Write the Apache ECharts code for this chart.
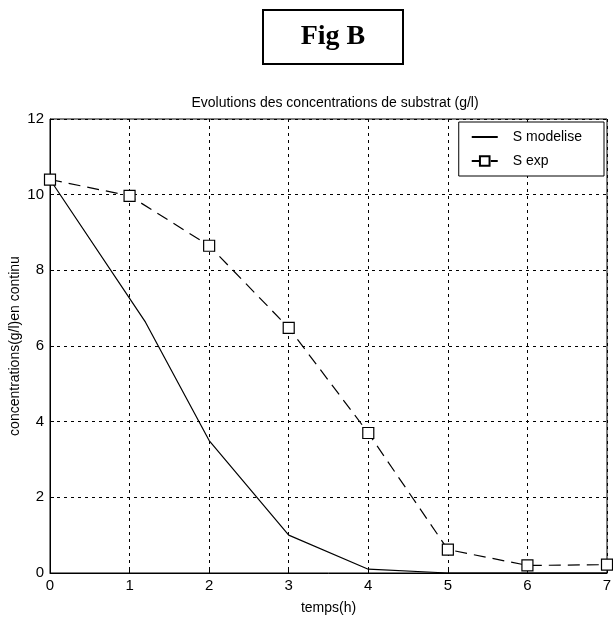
<!DOCTYPE html>
<html>
<head>
<meta charset="utf-8">
<script src="https://cdn.jsdelivr.net/npm/echarts@6/dist/echarts.min.js"></script>
<style>html,body{margin:0;padding:0;background:#fff}#c{width:613px;height:621px}</style>
</head>
<body>
<div id="c"></div>
<script>
var modelT = [0, 1.2, 2, 3, 4, 5, 6, 7];
var modelS = [10.4, 6.63, 3.5, 1.0, 0.1, 0, 0, 0];
var expT = [0, 1, 2, 3, 4, 5, 6, 7];
var expS = [10.4, 9.97, 8.65, 6.48, 3.7, 0.62, 0.2, 0.22];
var seriesNames = ['S modelise', 'S exp'];
var yAxisName = 'concentrations(g/l)en continu';

function pairs(xs, ys) { return xs.map(function (x, i) { return [x, ys[i]]; }); }

var chart = echarts.init(document.getElementById('c'));
var font = 'Liberation Sans, Arial, sans-serif';
var grid = { type: [3, 4], color: '#000', width: 1 };
chart.setOption({
  animation: false,
  backgroundColor: '#fff',
  title: {
    text: 'Evolutions des concentrations de substrat (g/l)',
    left: 330, top: 91, textAlign: 'center',
    textStyle: { fontFamily: font, fontSize: 14, fontWeight: 'normal', color: '#000' }
  },
  graphic: [
    { type: 'rect', shape: { x: 263, y: 10, width: 140, height: 54 },
      style: { fill: '#fff', stroke: '#000', lineWidth: 2 } },
    { type: 'text', x: 333, y: 37,
      style: { text: 'Fig B', font: 'bold 28px "Liberation Serif", "Times New Roman", serif', fill: '#000',
               align: 'center', verticalAlign: 'middle' } },
    { type: 'text', x: 15, y: 346, rotation: Math.PI / 2,
      style: { text: yAxisName, font: '14px "Liberation Sans", Arial, sans-serif', fill: '#000',
               align: 'center', verticalAlign: 'middle' } }
  ],
  legend: {
    orient: 'vertical', right: 9, top: 122,
    backgroundColor: '#fff', borderColor: '#000', borderWidth: 1,
    padding: [8, 22, 8, 12], itemGap: 10, itemWidth: 26, itemHeight: 12,
    textStyle: { fontFamily: font, fontSize: 14, color: '#000', padding: [0, 0, 0, 10] },
    data: [{ name: seriesNames[0], itemStyle: { opacity: 0 } }, { name: seriesNames[1] }]
  },
  grid: { left: 50, right: 6, top: 119, bottom: 48, show: true, borderColor: '#000', borderWidth: 1,
          containLabel: false, outerBoundsMode: 'none' },
  xAxis: {
    type: 'value', min: 0, max: 7, interval: 1,
    name: 'temps(h)', nameLocation: 'middle', nameGap: 28,
    nameTextStyle: { fontFamily: font, fontSize: 14, color: '#000' },
    axisLine: { lineStyle: { color: '#000' } },
    axisTick: { inside: true, length: 4, lineStyle: { color: '#000' } },
    axisLabel: { fontFamily: font, fontSize: 15, color: '#000', margin: 5 },
    splitLine: { show: true, lineStyle: grid }
  },
  yAxis: {
    type: 'value', min: 0, max: 12, interval: 2,
    axisLine: { show: true, lineStyle: { color: '#000' } },
    axisTick: { show: true, inside: true, length: 4, lineStyle: { color: '#000' } },
    axisLabel: { fontFamily: font, fontSize: 15, color: '#000', margin: 6 },
    splitLine: { show: true, lineStyle: grid }
  },
  series: [
    { name: seriesNames[0], type: 'line', data: pairs(modelT, modelS),
      symbol: 'none', color: '#000',
      lineStyle: { color: '#000', width: 1.2 } },
    { name: seriesNames[1], type: 'line', data: pairs(expT, expS),
      symbol: 'rect', symbolSize: 11, color: '#000',
      itemStyle: { color: '#fff', borderColor: '#000', borderWidth: 1.2 },
      lineStyle: { color: '#000', width: 1.2, type: [12, 7] } }
  ]
});
</script>
</body>
</html>
